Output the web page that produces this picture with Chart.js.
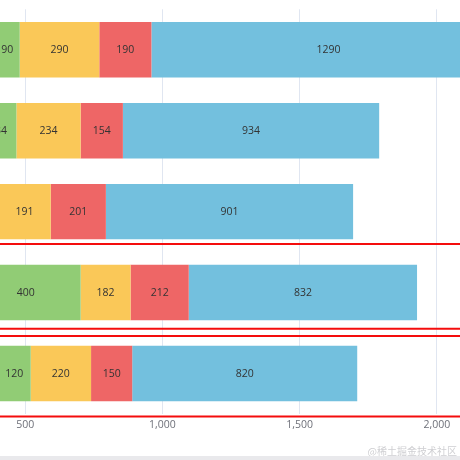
<!DOCTYPE html>
<html>
<head>
<meta charset="utf-8">
<script src="https://cdn.jsdelivr.net/npm/chart.js@4/dist/chart.umd.min.js"></script>
<style>
  html, body { margin: 0; padding: 0; background: #fff; }
  body { width: 460px; height: 460px; position: relative; overflow: hidden; }
  #wrap { position: absolute; left: -192px; top: 0; width: 786px; height: 454px; }
  #band { position: absolute; left: 0; right: 0; bottom: 0; height: 4px; background: #e9e9ec; }
  #mark { position: absolute; right: 3px; top: 443px; font: 10px "Noto Sans CJK SC", sans-serif; color: #cfcfd2; white-space: nowrap; }
</style>
</head>
<body>
<div id="wrap"><canvas id="chart"></canvas></div>
<div id="mark">@稀土掘金技术社区</div>
<div id="band"></div>
<script>
// categories bottom to top, as in the picture
const days = ['Mon', 'Tue', 'Wed', 'Thu', 'Fri'];

const direct = [400, 302, 301, 334, 390];
const mailAd = [120, 400, 101, 134, 90];
const affiliateAd = [220, 182, 191, 234, 290];
const videoAd = [150, 212, 201, 154, 190];
const searchEngine = [820, 832, 901, 934, 1290];

const xMax = 2500;
const xStep = 500;

// red highlight boxes, in category-index units (0 = Mon)
const highlightBoxes = [
  { from: -0.53, to: 0.465 },
  { from: 0.553, to: 1.60 }
];

const fontFamily = '"Open Sans", "Noto Sans", sans-serif';

// value labels centred in each bar segment
const segmentLabels = {
  id: 'segmentLabels',
  afterDatasetsDraw(chart) {
    const ctx = chart.ctx;
    ctx.save();
    ctx.font = '10.5px ' + fontFamily;
    ctx.fillStyle = '#333';
    ctx.textAlign = 'center';
    ctx.textBaseline = 'middle';
    chart.data.datasets.forEach((ds, i) => {
      const meta = chart.getDatasetMeta(i);
      meta.data.forEach((bar, j) => {
        const cx = (bar.x + bar.base) / 2;
        ctx.fillText(String(ds.data[j]), cx, bar.y);
      });
    });
    ctx.restore();
  }
};

const highlightLines = {
  id: 'highlightLines',
  afterDraw(chart) {
    const ctx = chart.ctx;
    const y = chart.scales.y;
    ctx.save();
    ctx.strokeStyle = '#f40d0d';
    ctx.lineWidth = 2;
    highlightBoxes.forEach(b => {
      [b.from, b.to].forEach(v => {
        const py = y.getPixelForValue(v);
        ctx.beginPath();
        ctx.moveTo(0, py);
        ctx.lineTo(chart.width, py);
        ctx.stroke();
      });
    });
    ctx.restore();
  }
};

function series(label, data, color) {
  return { label, data, backgroundColor: color, borderWidth: 0, stack: 'total' };
}

new Chart(document.getElementById('chart'), {
  type: 'bar',
  data: {
    labels: days,
    datasets: [
      series('Direct', direct, '#5470c6'),
      series('Mail Ad', mailAd, '#91cc75'),
      series('Affiliate Ad', affiliateAd, '#fac858'),
      series('Video Ad', videoAd, '#ee6666'),
      series('Search Engine', searchEngine, '#73c0de')
    ]
  },
  options: {
    indexAxis: 'y',
    responsive: true,
    maintainAspectRatio: false,
    animation: false,
    layout: { padding: { top: 0, left: 0, right: 20, bottom: 0 } },
    datasets: { bar: { categoryPercentage: 1, barPercentage: 0.685 } },
    plugins: { legend: { display: false }, tooltip: { enabled: false } },
    scales: {
      x: {
        stacked: true,
        min: 0,
        max: xMax,
        ticks: { stepSize: xStep, padding: 5, color: '#6e7079', font: { size: 10.5, family: fontFamily } },
        grid: { color: '#e0e6f1', drawTicks: false },
        border: { display: false },
        afterFit: s => { s.height = 40; }
      },
      y: {
        stacked: true,
        reverse: true,
        ticks: { color: '#6e7079', font: { size: 10.5, family: fontFamily } },
        grid: { display: false },
        border: { color: '#6e7079' },
        afterFit: s => { s.width = 80; }
      }
    }
  },
  plugins: [segmentLabels, highlightLines]
});
</script>
</body>
</html>
